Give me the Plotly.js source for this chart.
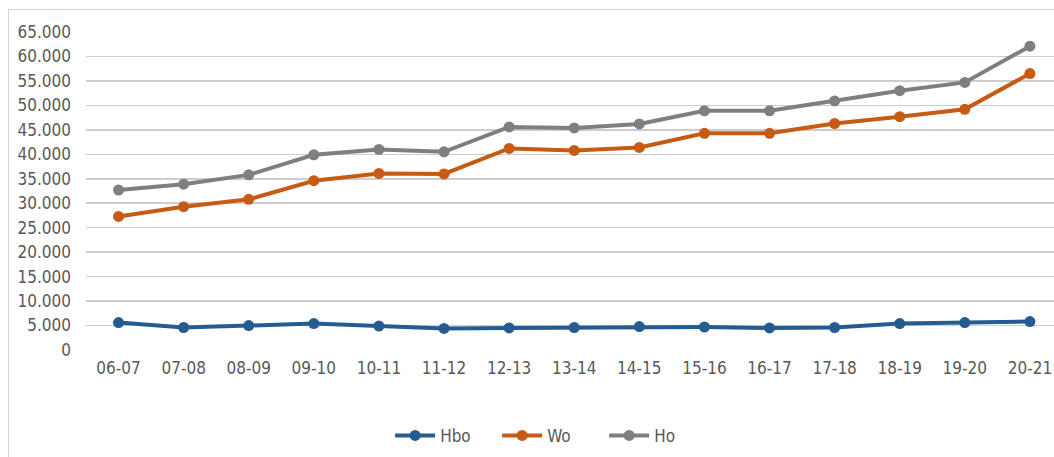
<!DOCTYPE html>
<html>
<head>
<meta charset="utf-8">
<script src="https://cdn.plot.ly/plotly-3.0.1.min.js"></script>
<style>
  html, body { margin: 0; padding: 0; background: #fff; overflow: hidden; }
  #wrap { position: relative; width: 1054px; height: 457px; }
  #frame { position: absolute; left: 8px; top: 9px; width: 1100px; height: 500px;
           border-left: 1px solid #d0d0d0; border-top: 1px solid #d0d0d0; pointer-events: none; }
  #chart { position: absolute; left: 0; top: 0; width: 1054px; height: 457px; }
</style>
</head>
<body>
<div id="wrap">
  <div id="chart"></div>
  <div id="frame"></div>
</div>
<script>
const categories = ["06-07","07-08","08-09","09-10","10-11","11-12","12-13","13-14","14-15","15-16","16-17","17-18","18-19","19-20","20-21"];
const hbo = [5600, 4600, 5000, 5400, 4900, 4400, 4500, 4600, 4800, 4700, 4500, 4600, 5400, 5600, 5800];
const wo  = [27300, 29300, 30800, 34600, 36100, 36000, 41200, 40800, 41400, 44300, 44300, 46300, 47700, 49200, 56500];
const ho  = [32700, 33900, 35800, 39900, 41000, 40500, 45600, 45400, 46200, 48900, 48900, 50900, 53000, 54700, 62100];
const yTicks = [0, 5000, 10000, 15000, 20000, 25000, 30000, 35000, 40000, 45000, 50000, 55000, 60000, 65000];

const FONT = "'DejaVu Sans Condensed', 'DejaVu Sans', sans-serif";
function series(name, y, color) {
  return {
    type: 'scatter', mode: 'lines+markers', name: name,
    x: categories, y: y,
    line: { color: color, width: 4 },
    marker: { color: color, size: 11 },
    cliponaxis: false
  };
}
const data = [
  series('Hbo', hbo, '#245C92'),
  series('Wo', wo, '#C65B14'),
  series('Ho', ho, '#7F7F7F')
];
const layout = {
  width: 1054, height: 457,
  margin: { l: 86, r: 0, t: 32, b: 107 },
  paper_bgcolor: 'rgba(0,0,0,0)', plot_bgcolor: '#fff',
  separators: ',.',
  font: { family: FONT, size: 17, color: '#595959' },
  showlegend: true,
  legend: { orientation: 'h', x: 0.48, xanchor: 'center', y: -0.27, yanchor: 'middle',
            font: { family: FONT, size: 17, color: '#595959' }, entrywidth: 52, entrywidthmode: 'pixels',
            itemwidth: 40, traceorder: 'normal' },
  xaxis: {
    type: 'category', range: [-0.5, 14.37], showgrid: false, zeroline: false,
    showline: false, ticks: '', ticklabelstandoff: 6, fixedrange: true
  },
  yaxis: {
    range: [0, 65000], tickvals: yTicks, tickformat: ',d',
    showgrid: true, gridcolor: '#CDCDCD', gridwidth: 1.6,
    zeroline: false, showline: false, ticks: '', ticklabelstandoff: 14, fixedrange: true
  }
};
Plotly.newPlot('chart', data, layout, { displayModeBar: false, staticPlot: true });
</script>
</body>
</html>
